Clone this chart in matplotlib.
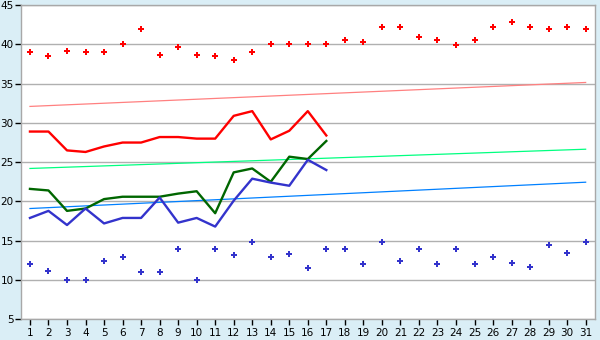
import numpy as np
import matplotlib
matplotlib.use("Agg")
import matplotlib.pyplot as plt

days = list(range(1, 32))
line_days = list(range(1, 18))

# points (top and bottom scatter)
red_pts = [39.0, 38.5, 39.2, 39.0, 39.0, 40.0, 42.0, 38.7, 39.7, 38.6,
           38.5, 38.0, 39.0, 40.0, 40.0, 40.0, 40.1, 40.6, 40.3, 42.2,
           42.2, 41.0, 40.5, 39.9, 40.6, 42.2, 42.8, 42.2, 42.0, 42.2, 41.9]
blue_pts = [12.0, 11.1, 10.0, 10.0, 12.4, 12.9, 11.0, 11.0, 13.9, 10.0,
            13.9, 13.2, 14.8, 12.9, 13.3, 11.5, 13.9, 13.9, 12.0, 14.9,
            12.4, 13.9, 12.0, 13.9, 12.0, 12.9, 12.1, 11.6, 14.4, 13.4, 14.9]

# lines (first 17 days)
red_line = [28.9, 28.9, 26.5, 26.3, 27.0, 27.5, 27.5, 28.2, 28.2, 28.0,
            28.0, 30.9, 31.5, 27.9, 29.0, 31.5, 28.4]
green_line = [21.6, 21.4, 18.8, 19.1, 20.3, 20.6, 20.6, 20.6, 21.0, 21.3,
              18.5, 23.7, 24.2, 22.5, 25.7, 25.4, 27.7]
blue_line = [17.9, 18.8, 17.0, 19.1, 17.2, 17.9, 17.9, 20.5, 17.3, 17.9,
             16.8, 20.1, 22.9, 22.4, 22.0, 25.3, 24.0]

# trend lines: value at day 1 and day 31
trend_days = [1, 31]
red_trend = [32.1, 35.15]
green_trend = [24.2, 26.65]
blue_trend = [19.1, 22.45]

bg = "#daeef6"
fig = plt.figure(figsize=(6, 3.4), dpi=100, facecolor=bg)
ax = fig.add_axes([0.0345, 0.061, 0.957, 0.924])
ax.set_facecolor("white")

ax.set_ylim(5, 45)
ax.set_xlim(0.5, 31.5)
ax.set_yticks(range(5, 46, 5))
ax.set_xticks(days)
ax.yaxis.grid(True, color="#b0b0b0", linewidth=1)
ax.set_axisbelow(True)

for s in ax.spines.values():
    s.set_color("#a8a8a8")
    s.set_linewidth(1)

ax.tick_params(axis="both", labelsize=7.5, colors="black", length=4, width=1, pad=2)
ax.tick_params(axis="y", pad=1)

ax.plot(trend_days, red_trend, color="#ff8080", lw=0.9)
ax.plot(trend_days, green_trend, color="#00ff80", lw=0.9)
ax.plot(trend_days, blue_trend, color="#0080ff", lw=0.9)

ax.plot(line_days, red_line, color="#ff0000", lw=1.7)
ax.plot(line_days, green_line, color="#006600", lw=1.7)
ax.plot(line_days, blue_line, color="#3333cc", lw=1.7)

ax.plot(days, red_pts, ls="none", marker="P", ms=4.5, color="#ff0000", mew=0)
ax.plot(days, blue_pts, ls="none", marker="P", ms=4.5, color="#3333cc", mew=0)

fig.savefig("out.png", dpi=100, facecolor=bg)
